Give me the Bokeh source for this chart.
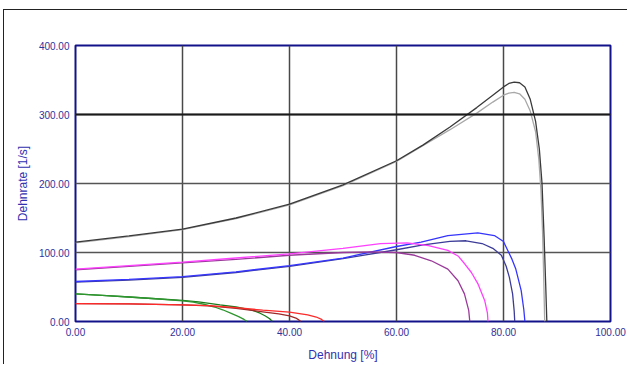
from bokeh.plotting import figure
from bokeh.models import Range1d, FixedTicker, PrintfTickFormatter, Span
from bokeh.embed import file_html
from bokeh.resources import INLINE

# ---- data ----
x_ticks = [0, 20, 40, 60, 80, 100]
y_ticks = [0, 100, 200, 300, 400]

black_x = [0, 10, 20, 30, 40, 50, 60, 65, 70, 75, 78, 80, 81, 82, 83, 84, 85, 86, 86.7, 87.2, 87.6, 87.9, 88.1]
black_y = [115, 124, 134, 150, 170, 198, 233, 256, 282, 310, 328, 340, 345, 347, 346, 340, 322, 290, 250, 200, 120, 50, 0]

gray_x = [0, 10, 20, 30, 40, 50, 60, 65, 70, 75, 78, 80, 81, 82, 83, 84, 85, 86, 86.6, 87.0, 87.3, 87.5, 87.7]
gray_y = [114, 123, 133, 149, 169, 197, 232, 255, 278, 302, 318, 328, 331, 332, 330, 322, 305, 275, 235, 190, 130, 70, 0]

blue_x = [0, 10, 20, 30, 40, 50, 60, 64.6, 69.6, 75.2, 78.3, 80, 80.8, 81.6, 82.3, 83.3, 83.8, 84.0]
blue_y = [58, 61, 65, 72, 81, 92, 108.7, 115, 124.6, 128.5, 124.6, 116, 103, 90, 76, 45, 17, 0]

navy_x = [0, 10, 20, 30, 40, 50, 60, 65, 70, 73, 76, 78, 79.6, 80.5, 81.1, 81.7, 82.0, 82.1]
navy_y = [57, 60, 64, 71, 80, 91, 104, 111, 116, 117, 113, 106, 96, 80, 64, 40, 15, 0]

magenta_x = [0, 10, 20, 30, 40, 50, 57, 62, 66, 69.6, 71.5, 72.7, 74, 75.2, 76.5, 77.0, 77.1]
magenta_y = [76, 81, 86, 92, 98, 106, 113, 114, 110, 103, 95, 84, 71, 55, 30, 12, 0]

purple_x = [0, 10, 20, 30, 40, 50, 55, 60, 63.4, 66.5, 69.6, 71.5, 72.7, 73.5, 73.7]
purple_y = [75, 80, 85, 90, 96, 100, 101, 100, 96, 88, 76, 59, 40, 16, 0]

greenA_x = [0, 5, 10, 15, 20, 22, 24, 26, 27.5, 29, 30.5, 31.5, 32.1]
greenA_y = [40, 38, 35.5, 33, 30, 28, 25, 21, 17, 12, 7, 3, 0]

greenB_x = [0, 5, 10, 15, 20, 23, 27, 30, 32.8, 34.5, 35.5, 36.3, 36.8]
greenB_y = [40, 38, 35.5, 33, 30.5, 28.5, 24, 21, 17, 12, 8, 4, 0]

red_x = [0, 10, 20, 25, 30, 35, 40, 43.4, 45, 46, 46.5]
red_y = [26, 25.5, 24, 23, 20, 16.5, 13.5, 9.6, 6.5, 3, 0]

darkred_x = [0, 10, 20, 25, 30, 35, 38, 40, 41.2, 41.8, 42.1]
darkred_y = [26, 25.5, 24, 22.5, 19, 14, 11, 8, 5, 2, 0]

# ---- figure ----
p = figure(width=624, height=355, output_backend="svg", toolbar_location=None,
           x_range=Range1d(0, 100), y_range=Range1d(0, 400),
           min_border_left=71, min_border_right=18, min_border_top=35, min_border_bottom=44,
           margin=(9, 0, 0, 3),
           styles={"border-top": "1px solid #222222", "border-left": "1px solid #222222"})
p.background_fill_color = "white"
p.border_fill_color = "white"
p.outline_line_color = "#12128a"
p.outline_line_width = 2

p.xaxis.ticker = FixedTicker(ticks=x_ticks)
p.yaxis.ticker = FixedTicker(ticks=y_ticks)
for ax in (p.xaxis, p.yaxis):
    ax.formatter = PrintfTickFormatter(format="%.2f")
    ax.axis_line_color = None
    ax.major_tick_line_color = None
    ax.minor_tick_line_color = None
    ax.major_tick_out = 0
    ax.major_tick_in = 0
    ax.minor_tick_out = 0
    ax.minor_tick_in = 0
    ax.major_label_text_font = "Liberation Sans"
    ax.major_label_text_font_size = "10px"
    ax.major_label_text_color = "#30309a"
    ax.major_label_standoff = 6
    ax.axis_label_text_font = "Liberation Sans"
    ax.axis_label_text_font_size = "12px"
    ax.axis_label_text_font_style = "normal"
    ax.axis_label_text_color = "#3030b0"

p.xaxis.axis_label = "Dehnung [%]"
p.yaxis.axis_label = "Dehnrate [1/s]"
p.xaxis.axis_label_standoff = 9
p.yaxis.axis_label_standoff = 6

p.xgrid.grid_line_color = "#484848"
p.xgrid.grid_line_width = 1.5
p.ygrid.grid_line_color = "#555555"
p.ygrid.grid_line_width = 1.5
p.add_layout(Span(location=y_ticks[3], dimension="width", line_color="#1a1a1a", line_width=2))

lw = 1.3
p.line(gray_x, gray_y, line_color="#a8a8a8", line_width=lw)
p.line(black_x, black_y, line_color="#3a3a3a", line_width=lw)
p.line(navy_x, navy_y, line_color="#3c3c98", line_width=lw)
p.line(blue_x, blue_y, line_color="#3535ff", line_width=lw)
p.line(purple_x, purple_y, line_color="#9a3a9a", line_width=lw)
p.line(magenta_x, magenta_y, line_color="#ff40ff", line_width=lw)
p.line(greenB_x, greenB_y, line_color="#1a7a1a", line_width=lw)
p.line(greenA_x, greenA_y, line_color="#2e962e", line_width=lw)
p.line(darkred_x, darkred_y, line_color="#a02828", line_width=lw)
p.line(red_x, red_y, line_color="#ff2a2a", line_width=lw)

open("out.html", "w").write(file_html(p, INLINE))
